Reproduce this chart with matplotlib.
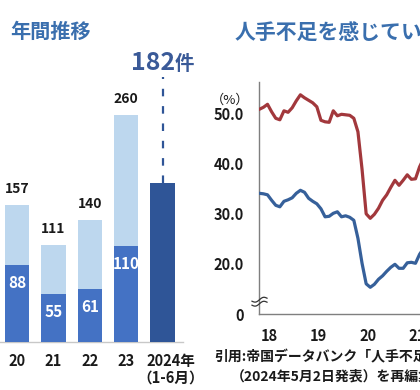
import numpy as np
import matplotlib
matplotlib.use("Agg")
import matplotlib.pyplot as plt
from matplotlib.transforms import ScaledTranslation

plt.rcParams['font.family'] = ['Noto Sans CJK JP', 'DejaVu Sans']

# ---------------- data ----------------
# left panel: annual counts
bar_labels = ['20', '21', '22', '23', '2024年\n（1-6月）']
bar_totals = [157, 111, 140, 260, 182]
bar_lower = [88, 55, 61, 110]          # dark part for 2020-2023
latest_label = '182'
latest_unit = '件'

# right panel: share of firms feeling labour shortage (%), monthly
line_regular = [50.8, 51.2, 51.8, 50.3, 49.0, 48.7, 50.5, 50.2, 51.1, 52.5,
                53.7, 53.1, 52.6, 52.1, 51.3, 48.6, 48.3, 48.2, 50.5, 49.5,
                49.8, 49.7, 49.6, 49.0, 46.3, 38.8, 29.9, 29.0, 29.8, 31.0,
                32.6, 33.7, 35.2, 36.6, 35.6, 36.6, 37.7, 36.8, 36.9, 39.3,
                41.0]
line_nonregular = [34.0, 33.9, 33.7, 32.6, 31.6, 31.3, 32.4, 32.7, 33.1, 34.0,
                   34.6, 34.2, 33.0, 32.4, 31.9, 30.9, 29.3, 29.4, 30.0, 30.3,
                   29.3, 29.5, 29.2, 28.6, 25.0, 20.0, 15.9, 15.2, 15.8, 16.8,
                   17.5, 18.4, 19.2, 19.8, 19.0, 19.0, 20.1, 20.2, 20.0, 21.8,
                   23.0]
year_labels = ['18', '19', '20', '21']
ytick_values = [20, 30, 40, 50]
ytick_labels = ['20.0', '30.0', '40.0', '50.0']

# ---------------- style ----------------
W, H = 420, 390
C_LIGHT = '#bdd7ee'
C_MID = '#4472c4'
C_DARK = '#2f5597'
C_BIG = '#3a5a98'
C_TITLE = '#3a6fae'
C_RED = '#a2383c'
C_BLUE = '#36609a'
TXT = '#1a1a1a'

fig = plt.figure(figsize=(W / 100, H / 100), dpi=100)

def fx(px):
    return px / W

def fy(py):
    return 1 - py / H

# ---------------- left panel ----------------
axL = fig.add_axes([fx(0), fy(342), fx(183), (342 - 40) / H])
n = len(bar_totals)
x = np.arange(n)
bw = 0.673
axL.bar(x[:4], bar_totals[:4], width=bw, color=C_LIGHT, zorder=2)
axL.bar(x[:4], bar_lower, width=bw, color=C_MID, zorder=3)
axL.bar(x[4], bar_totals[4], width=bw, color=C_DARK, zorder=3)
axL.set_xlim(-0.467, 4.56)
axL.set_ylim(0, 302 / 0.875)
for s in ['top', 'right', 'left']:
    axL.spines[s].set_visible(False)
axL.spines['bottom'].set_color('#c8c8c8')
axL.spines['bottom'].set_linewidth(1.0)
axL.set_yticks([])
axL.set_xticks(x)
axL.set_xticklabels(bar_labels, fontsize=10.5, fontweight='bold', color=TXT,
                    linespacing=1.0)
axL.tick_params(axis='x', length=0, pad=8)
lab = axL.get_xticklabels()[-1]
lab.set_transform(lab.get_transform() + ScaledTranslation(8.5 / 100, 0, fig.dpi_scale_trans))

for i in range(4):
    axL.annotate(str(bar_totals[i]), (x[i], bar_totals[i]), xytext=(0, 11.5),
                 textcoords='offset points', ha='center', va='center',
                 fontsize=10, fontweight='bold', color=TXT)
    axL.annotate(str(bar_lower[i]), (x[i], bar_lower[i]), xytext=(0, -13),
                 textcoords='offset points', ha='center', va='center',
                 fontsize=11, fontweight='bold', color='white', zorder=5)

# dashed guide + big label for 2024
axL.plot([x[4], x[4]], [bar_totals[4], bar_totals[4] + 105.5 / 0.875],
         color=C_DARK, lw=1.6, ls=(0, (3.4, 4.4)), clip_on=False, zorder=4)
axL.annotate(latest_label, (x[4], bar_totals[4]), xytext=(-6.6, 81.5),
             textcoords='offset points', ha='center', va='baseline',
             fontsize=18, fontweight='bold', color=C_BIG, annotation_clip=False)
axL.annotate(latest_unit, (x[4], bar_totals[4]), xytext=(16.0, 81.5),
             textcoords='offset points', ha='center', va='baseline',
             fontsize=14, fontweight='bold', color=C_BIG, annotation_clip=False)

fig.text(fx(10), fy(31), '年間推移', fontsize=14.5, fontweight='bold',
         color=C_TITLE, ha='left', va='center')

# ---------------- right panel ----------------
px_per_month = 4.11
ax_w_px = 600 - 259.3
axR = fig.add_axes([fx(259.3), fy(314.3), ax_w_px / W, (314.3 - 82) / H])
t = np.arange(len(line_regular))
axR.plot(t, line_regular, color=C_RED, lw=2.3, solid_joinstyle='round', zorder=3)
axR.plot(t, line_nonregular, color=C_BLUE, lw=2.3, solid_joinstyle='round', zorder=3)
axR.set_xlim(0, ax_w_px / px_per_month)
ybot = 20 - (314.3 - 263.3) / 5
ytop = 20 + (263.3 - 82) / 5
axR.set_ylim(ybot, ytop)
for s in ['top', 'right']:
    axR.spines[s].set_visible(False)
for s in ['left', 'bottom']:
    axR.spines[s].set_color('#7f7f7f')
    axR.spines[s].set_linewidth(1.0)
axR.set_yticks([ybot] + ytick_values)
axR.set_yticklabels(['0'] + ytick_labels, fontsize=10.5, fontweight='bold', color=TXT)
first_tick = 2.45
axR.set_xticks([first_tick + 12 * k for k in range(len(year_labels))])
axR.set_xticklabels(year_labels, fontsize=10.5, fontweight='bold', color=TXT)
axR.tick_params(axis='both', length=0)
axR.tick_params(axis='y', pad=11)
axR.tick_params(axis='x', pad=10)
axR.annotate('（%）', (0, 50), xycoords=('axes fraction', 'data'), xytext=(-21, 9.5),
             textcoords='offset points', ha='center', va='center', fontsize=9.5,
             color=TXT, annotation_clip=False)

# axis-break squiggle
sx = np.linspace(0, 1, 30)
for dy in (-2.0, 2.0):
    xs = 252 + 15 * sx
    ys = 301.7 + dy - 3 * (sx - 0.5) + 1.6 * np.sin(sx * 2 * np.pi)
    fig.add_artist(plt.Line2D(fx(xs), fy(ys), transform=fig.transFigure,
                              color='#333333', lw=0.9))

fig.text(fx(235), fy(33), '人手不足を感じている企業の割合', fontsize=15,
         fontweight='bold', color=C_TITLE, ha='left', va='center')

# source note
fig.text(fx(214), fy(357), '引用:帝国データバンク「人手不足に対する企業の動向調査」', fontsize=10,
         fontweight='bold', color=TXT, ha='left', va='center')
fig.text(fx(231), fy(377), '（2024年5月2日発表）を再編集', fontsize=10,
         fontweight='bold', color=TXT, ha='left', va='center')

fig.savefig('out.png', dpi=100)
